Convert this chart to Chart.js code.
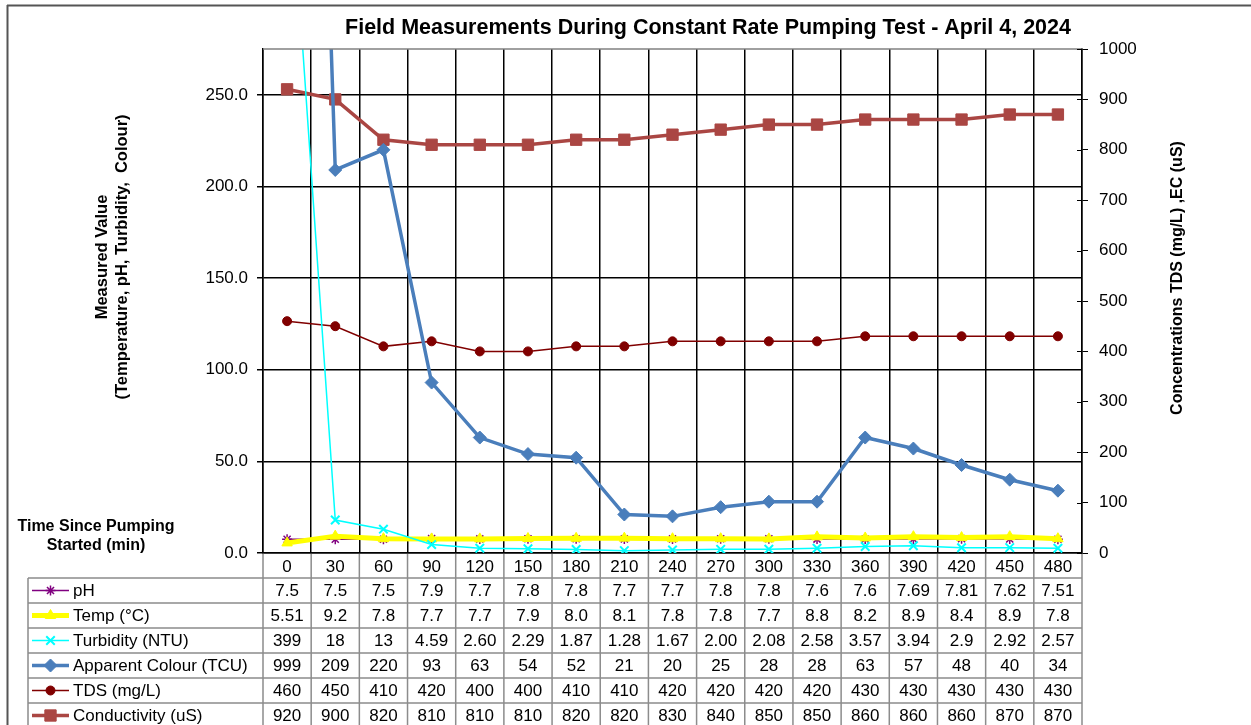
<!DOCTYPE html>
<html><head><meta charset="utf-8">
<script src="https://cdn.jsdelivr.net/npm/chart.js@4/dist/chart.umd.min.js"></script>
<style>html,body{margin:0;padding:0;background:#fff}</style>
</head><body>
<canvas id="c" width="1251" height="725"></canvas>
<script>
// ---- Data ----
const timeLabels = ['0','30','60','90','120','150','180','210','240','270','300','330','360','390','420','450','480'];
const phValues   = ['7.5','7.5','7.5','7.9','7.7','7.8','7.8','7.7','7.7','7.8','7.8','7.6','7.6','7.69','7.81','7.62','7.51'];
const tempValues = ['5.51','9.2','7.8','7.7','7.7','7.9','8.0','8.1','7.8','7.8','7.7','8.8','8.2','8.9','8.4','8.9','7.8'];
const turbValues = ['399','18','13','4.59','2.60','2.29','1.87','1.28','1.67','2.00','2.08','2.58','3.57','3.94','2.9','2.92','2.57'];
const colourValues = ['999','209','220','93','63','54','52','21','20','25','28','28','63','57','48','40','34'];
const tdsValues  = ['460','450','410','420','400','400','410','410','420','420','420','420','430','430','430','430','430'];
const condValues = ['920','900','820','810','810','810','820','820','830','840','850','850','860','860','860','870','870'];
const seriesNames = ['pH','Temp (°C)','Turbidity (NTU)','Apparent Colour (TCU)','TDS (mg/L)','Conductivity (uS)'];
const leftTicks = [0,50,100,150,200,250];
const rightTicks = [0,100,200,300,400,500,600,700,800,900,1000];
const chartTitle = 'Field Measurements During Constant Rate Pumping Test - April 4, 2024';
const leftTitle = ['Measured Value','(Temperature, pH, Turbidity,  Colour)'];
const rightTitle = 'Concentrations TDS (mg/L) ,EC (uS)';
const xTitle = ['Time Since Pumping','Started (min)'];

const rowStrings = [phValues,tempValues,turbValues,colourValues,tdsValues,condValues];
const styles = [
  {color:'#800080', bw:1.5, ps:'star', r:5, pbw:1.5, axis:'y', order:3},
  {color:'#FFFF00', bw:5, ps:'triangle', r:6, pbw:1, axis:'y', order:2},
  {color:'#00FFFF', bw:1.5, ps:'crossRot', r:6, pbw:2, axis:'y', order:1},
  {color:'#4A7EBB', bw:3.5, ps:'rectRot', r:6.5, pbw:1, axis:'y', order:0},
  {color:'#800000', bw:1.5, ps:'circle', r:4.5, pbw:1, axis:'y1', order:4},
  {color:'#AA4643', bw:3.5, ps:'rect', r:8, pbw:1, axis:'y1', order:5}
];

const datasets = seriesNames.map((name,i)=>({
  label:name,
  data: rowStrings[i].map(Number),
  yAxisID: styles[i].axis,
  borderColor: styles[i].color,
  backgroundColor: styles[i].color,
  borderWidth: styles[i].bw,
  pointStyle: styles[i].ps,
  pointRadius: styles[i].r,
  pointHoverRadius: styles[i].r,
  pointBorderWidth: styles[i].pbw,
  pointBackgroundColor: styles[i].color,
  pointBorderColor: styles[i].color,
  order: styles[i].order,
  tension: 0
}));

const FONT = "'Liberation Sans', Arial, sans-serif";
const ROW_H = 25;
const TABLE_LEFT = 28;

const tablePlugin = {
  id:'tablePlugin',
  beforeDraw(chart){
    const ctx = chart.ctx;
    ctx.save();
    ctx.fillStyle = '#fff';
    ctx.fillRect(0,0,chart.width,chart.height);
    ctx.strokeStyle = '#555';
    ctx.lineWidth = 2;
    ctx.beginPath();
    ctx.moveTo(7,5.5); ctx.lineTo(chart.width,5.5);
    ctx.moveTo(7.5,5); ctx.lineTo(7.5,chart.height);
    ctx.stroke();
    ctx.restore();
  },
  afterDraw(chart){
    const ctx = chart.ctx;
    const ca = chart.chartArea;
    const xs = chart.scales.x;
    const ys1 = chart.scales.y1;
    const n = timeLabels.length;
    ctx.save();
    // top plot border
    ctx.strokeStyle = '#808080'; ctx.lineWidth = 1.5;
    ctx.beginPath(); ctx.moveTo(ca.left, ca.top); ctx.lineTo(ca.right, ca.top); ctx.stroke();
    // inner half of right axis tick marks
    ctx.strokeStyle = '#000'; ctx.lineWidth = 1;
    ctx.beginPath();
    rightTicks.forEach(v=>{ const y = Math.round(ys1.getPixelForValue(v))+0.5; ctx.moveTo(ca.right-5, y); ctx.lineTo(ca.right, y); });
    ctx.stroke();

    // table grid
    const bounds = [ca.left];
    for(let i=0;i<n-1;i++) bounds.push((xs.getPixelForValue(i)+xs.getPixelForValue(i+1))/2);
    bounds.push(ca.right);
    ctx.strokeStyle = '#8c8c8c'; ctx.lineWidth = 1.5;
    ctx.beginPath();
    for(let r=1;r<=seriesNames.length;r++){
      const y = ca.bottom + ROW_H*r;
      ctx.moveTo(TABLE_LEFT, y); ctx.lineTo(ca.right, y);
    }
    ctx.moveTo(TABLE_LEFT, ca.bottom+ROW_H); ctx.lineTo(TABLE_LEFT, chart.height);
    bounds.forEach(b=>{ ctx.moveTo(b, ca.bottom+1); ctx.lineTo(b, chart.height); });
    ctx.stroke();

    // table values
    ctx.fillStyle = '#000';
    ctx.font = '17px ' + FONT;
    ctx.textAlign = 'center'; ctx.textBaseline = 'middle';
    rowStrings.forEach((arr,r)=>{
      const yc = ca.bottom + ROW_H*(r+1) + ROW_H/2 + 0.5;
      arr.forEach((s,i)=> ctx.fillText(s, xs.getPixelForValue(i), yc));
    });
    // legend keys
    rowStrings.forEach((arr,r)=>{
      const st = styles[r];
      const yc = ca.bottom + ROW_H*(r+1) + ROW_H/2;
      ctx.strokeStyle = st.color; ctx.fillStyle = st.color;
      ctx.lineWidth = st.bw;
      ctx.beginPath(); ctx.moveTo(32, yc); ctx.lineTo(69, yc); ctx.stroke();
      ctx.lineWidth = st.pbw;
      Chart.helpers.drawPoint(ctx, {pointStyle: st.ps, radius: st.r, borderWidth: st.pbw, rotation:0}, 50.5, yc);
      ctx.fillStyle = '#000';
      ctx.textAlign = 'left';
      ctx.fillText(seriesNames[r], 73, yc + 0.5);
    });

    // chart title
    ctx.fillStyle = '#000';
    ctx.textAlign = 'center'; ctx.textBaseline = 'middle';
    ctx.font = 'bold 21.5px ' + FONT;
    ctx.fillText(chartTitle, 708, 28);

    // x title
    ctx.font = 'bold 16px ' + FONT;
    ctx.fillText(xTitle[0], 96, 527);
    ctx.fillText(xTitle[1], 96, 546);

    // left axis title
    ctx.save();
    ctx.font = 'bold 16.5px ' + FONT;
    ctx.translate(112.5, 257); ctx.rotate(-Math.PI/2);
    ctx.fillText(leftTitle[0], 0, -10);
    ctx.fillText(leftTitle[1], 0, 10);
    ctx.restore();
    // right axis title
    ctx.save();
    ctx.font = 'bold 16px ' + FONT;
    ctx.translate(1178, 278); ctx.rotate(-Math.PI/2);
    ctx.fillText(rightTitle, 0, 0);
    ctx.restore();
    ctx.restore();
  }
};

new Chart(document.getElementById('c'), {
  type:'line',
  data:{labels: timeLabels, datasets},
  plugins:[tablePlugin],
  options:{
    responsive:false,
    animation:false,
    devicePixelRatio:1,
    layout:{padding:{top:49,left:0,right:0,bottom:0}},
    plugins:{legend:{display:false}, title:{display:false}, tooltip:{enabled:false}},
    scales:{
      x:{
        type:'category',
        offset:true,
        grid:{offset:true, color:'#000', lineWidth:1.5, drawTicks:false},
        border:{color:'#000', width:1.5},
        ticks:{color:'#000', font:{family:FONT, size:17}, padding:4, maxRotation:0, autoSkip:false},
        afterFit(s){ s.height = 172; }
      },
      y:{
        position:'left',
        min:0, max:275,
        grid:{color:'#000', lineWidth:1.5, tickLength:6},
        border:{color:'#000', width:1.5},
        ticks:{color:'#000', font:{family:FONT, size:17}, padding:9, callback:v=>Number(v).toFixed(1)},
        afterBuildTicks(s){ s.ticks = leftTicks.map(v=>({value:v})); },
        afterFit(s){ s.width = 263; }
      },
      y1:{
        position:'right',
        min:0, max:1000,
        grid:{drawOnChartArea:false, color:'#000', tickLength:6},
        border:{color:'#000', width:1.5},
        ticks:{color:'#000', font:{family:FONT, size:17}, padding:11, callback:v=>String(v)},
        afterBuildTicks(s){ s.ticks = rightTicks.map(v=>({value:v})); },
        afterFit(s){ s.width = 1251-1082; }
      }
    }
  }
});
</script>
</body></html>
